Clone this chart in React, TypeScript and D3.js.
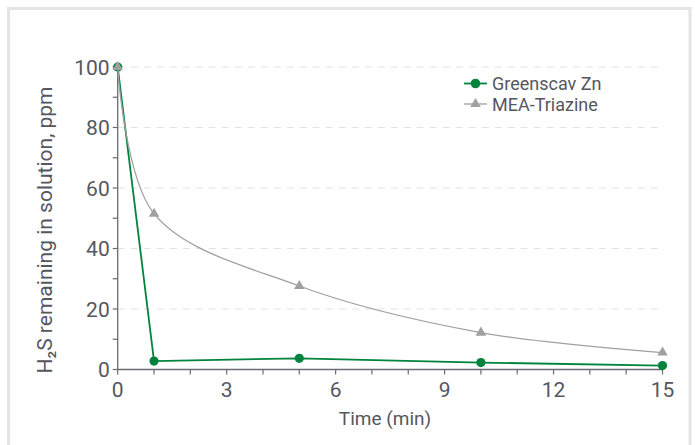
import React from "react";
import * as d3 from "d3";

// time in minutes
const times = [0, 1, 5, 10, 15];
const greenscav = [100, 2.8, 3.7, 2.3, 1.3];
const triazine = [100, 51.5, 27.6, 12.2, 5.6];
const seriesNames = ["Greenscav Zn", "MEA-Triazine"];
const xMajor = [0, 3, 6, 9, 12, 15];
const xMinor = d3.range(0, 16, 1);
const yMajor = [0, 20, 40, 60, 80, 100];
const yMinor = d3.range(0, 101, 10);

const W = 695;
const H = 445;
const GREEN = "#00843d";
const GREY = "#a0a0a0";
const TEXT = "#55575f";
const AXIS = "#6a6c72";
const FONT = "Roboto, 'Noto Sans', sans-serif";

export default function App() {
  const x = d3.scaleLinear().domain([0, 15]).range([117.7, 662.5]);
  const y = d3.scaleLinear().domain([0, 100]).range([369.5, 67]);

  const gPts = times.map((t, i) => [t, greenscav[i]] as [number, number]);
  const tPts = times.map((t, i) => [t, triazine[i]] as [number, number]);

  const straight = d3.line<[number, number]>().x(d => x(d[0])).y(d => y(d[1]));
  const smooth = d3.line<[number, number]>().x(d => x(d[0])).y(d => y(d[1])).curve(d3.curveCatmullRom);
  const tri = d3.symbol().type(d3.symbolTriangle).size(48)() as string;

  return (
    <svg width={W} height={H} style={{ position: "absolute", left: 0, top: 0, background: "#fff" }} fontFamily={FONT}>
      {/* frame */}
      <rect x={8.5} y={8.5} width={681.5} height={H + 20} fill="none" stroke="#e4e4e4" strokeWidth={3} />

      {/* grid */}
      {yMajor.filter(v => v > 0).map(v => (
        <line key={"g" + v} x1={x(0)} x2={x(15)} y1={y(v)} y2={y(v)} stroke="#e2e2e2" strokeDasharray="7,6" strokeWidth={1} />
      ))}

      {/* axes */}
      <line x1={x(0)} x2={x(0)} y1={y(100)} y2={y(0)} stroke={AXIS} strokeWidth={1.3} />
      <line x1={x(0)} x2={x(15)} y1={y(0)} y2={y(0)} stroke={AXIS} strokeWidth={1.3} />
      {yMinor.map(v => (
        <line key={"yt" + v} x1={x(0) - 5} x2={x(0)} y1={y(v)} y2={y(v)} stroke={AXIS} strokeWidth={1.2} />
      ))}
      {xMinor.map(v => (
        <line key={"xt" + v} x1={x(v)} x2={x(v)} y1={y(0)} y2={y(0) + 5} stroke={AXIS} strokeWidth={1.2} />
      ))}
      {yMajor.map(v => (
        <text key={"yl" + v} x={x(0) - 8} y={y(v) + 7.5} textAnchor="end" fontSize={21} fill={TEXT}>{v}</text>
      ))}
      {xMajor.map(v => (
        <text key={"xl" + v} x={x(v)} y={397} textAnchor="middle" fontSize={21} fill={TEXT}>{v}</text>
      ))}

      <text x={385} y={425} textAnchor="middle" fontSize={19} fill={TEXT}>Time (min)</text>
      <text transform="translate(52,230) rotate(-90)" textAnchor="middle" fontSize={21} fill={TEXT}>
        H₂S remaining in solution, ppm
      </text>

      {/* series */}
      <path d={straight(gPts) as string} fill="none" stroke={GREEN} strokeWidth={1.8} />
      {gPts.map((p, i) => (
        <circle key={"gc" + i} cx={x(p[0])} cy={y(p[1])} r={4.6} fill={GREEN} />
      ))}
      <path d={smooth(tPts) as string} fill="none" stroke={GREY} strokeWidth={1.3} />
      {tPts.map((p, i) => (
        <path key={"tp" + i} d={tri} transform={`translate(${x(p[0])},${y(p[1])})`} fill={GREY} />
      ))}

      {/* legend */}
      <g transform="translate(464,83.5)">
        <line x1={0} x2={23} y1={0} y2={0} stroke={GREEN} strokeWidth={1.8} />
        <circle cx={11.5} cy={0} r={4.8} fill={GREEN} />
        <text x={28} y={6.5} fontSize={18} fill={TEXT}>{seriesNames[0]}</text>
      </g>
      <g transform="translate(464,104)">
        <line x1={0} x2={23} y1={0} y2={0} stroke={GREY} strokeWidth={1.3} />
        <path d={tri} transform="translate(11.5,0)" fill={GREY} />
        <text x={28} y={6.5} fontSize={18} fill={TEXT}>{seriesNames[1]}</text>
      </g>
    </svg>
  );
}
